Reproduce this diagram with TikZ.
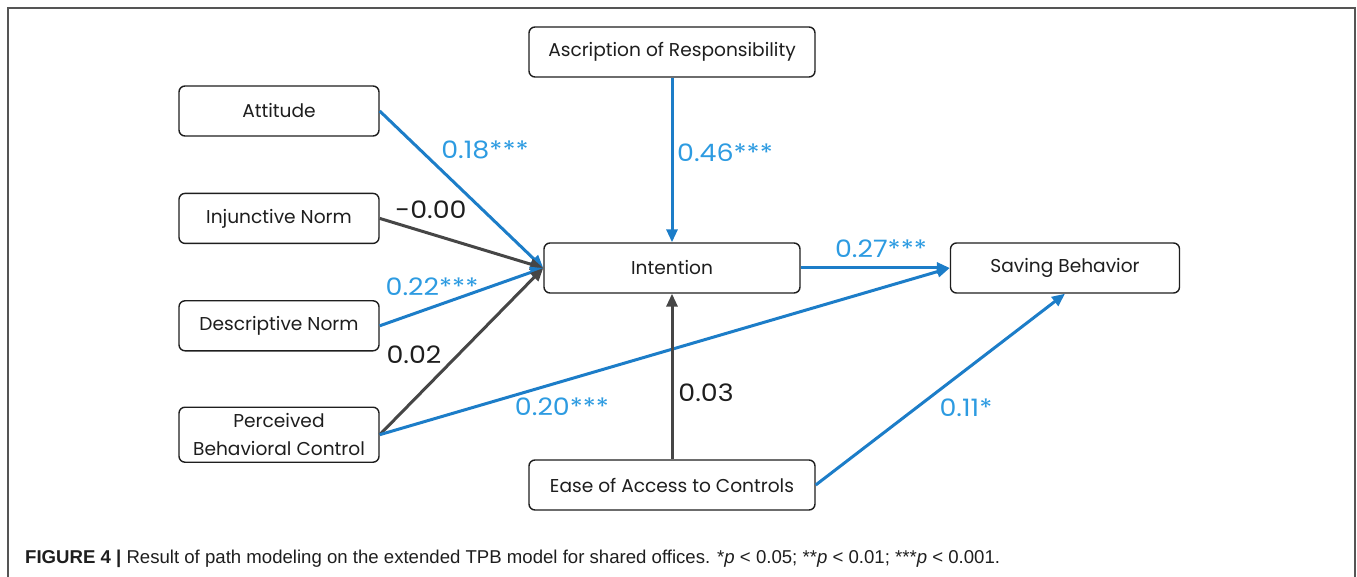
\documentclass[tikz,border=0pt]{standalone}
\usepackage{fontspec}
\setmainfont{Poppins}
\newfontfamily\wide[FakeStretch=1.12]{Poppins}
\newfontfamily\capfont{Liberation Sans}
\usetikzlibrary{arrows.meta,positioning}
\definecolor{ink}{RGB}{30,30,30}
\definecolor{edge}{RGB}{70,70,70}
\definecolor{pathblue}{RGB}{28,125,200}
\definecolor{coefblue}{RGB}{45,155,225}
\definecolor{frame}{RGB}{85,85,85}
\tikzset{
  box/.style={draw=ink,rounded corners=6pt,line width=1.4pt,fill=white,
    minimum height=50pt,inner sep=3pt,align=center,
    font=\fontsize{18.6}{28}\selectfont,text=ink},
  arr/.style={-{Triangle[length=13pt,width=11pt]},line width=3pt},
  sig/.style={arr,pathblue},
  nsig/.style={arr,edge},
  lbl/.style={font=\wide\fontsize{24}{26}\selectfont,inner sep=0pt},
}

\begin{document}
\begin{tikzpicture}[x=1pt,y=-1pt,node distance=56pt]
  \useasboundingbox (0,0) rectangle (1357,577);
  \draw[frame,line width=1.5pt] (8,577) -- (8,8) -- (1355,8) -- (1355,577);
  % predictors on the left
  \node[box,minimum width=200pt] (att) at (279,111) {Attitude};
  \node[box,minimum width=200pt,below=56pt of att] (inj) {Injunctive Norm};
  \node[box,minimum width=200pt,below=56pt of inj] (des) {Descriptive Norm};
  \node[box,minimum width=200pt,minimum height=55pt,below=55pt of des] (pbc)
    {Perceived\\Behavioral Control};
  % middle column and outcome
  \node[box,minimum width=286pt] (asc) at (672,52) {Ascription of Responsibility};
  \node[box,minimum width=256pt] (int) at (672,268) {Intention};
  \node[box,minimum width=286pt] (eac) at (672,485) {Ease of Access to Controls};
  \node[box,minimum width=229pt] (sav) at (1065,268) {Saving Behavior};
  % paths
  \draw[sig] (att.east) -- (int.west);
  \draw[nsig] (inj.east) -- (int.west);
  \draw[sig] (des.east) -- (int.west);
  \draw[nsig] (pbc.east) -- (int.west);
  \draw[sig] (pbc.east) -- (sav.west);
  \draw[sig] (asc) -- (int);
  \draw[nsig] (eac) -- (int);
  \draw[sig] (int) -- (sav);
  \draw[sig] (eac.east) -- (sav.south);
  % coefficients
  \node[lbl,coefblue] (c1) at (485,150) {0.18***};
  \node[lbl,ink] (c2) at (431,210) {-0.00};
  \node[lbl,coefblue] (c3) at (432,287) {0.22***};
  \node[lbl,ink] (c4) at (414,355) {0.02};
  \node[lbl,coefblue] (c5) at (562,407) {0.20***};
  \node[lbl,coefblue] (c6) at (725,153) {0.46***};
  \node[lbl,ink] (c7) at (706,393) {0.03};
  \node[lbl,coefblue] (c8) at (881,249) {0.27***};
  \node[lbl,coefblue] (c9) at (966,408) {0.11*};
  % caption
  \node[anchor=base west,inner sep=0pt,text=ink,font=\capfont\fontsize{18.6}{20}\selectfont] (cap) at (25,563)
    {\textbf{FIGURE 4 |} Result of path modeling on the extended TPB model for shared offices. *\textit{p} < 0.05; **\textit{p} < 0.01; ***\textit{p} < 0.001.};
\end{tikzpicture}
\end{document}
